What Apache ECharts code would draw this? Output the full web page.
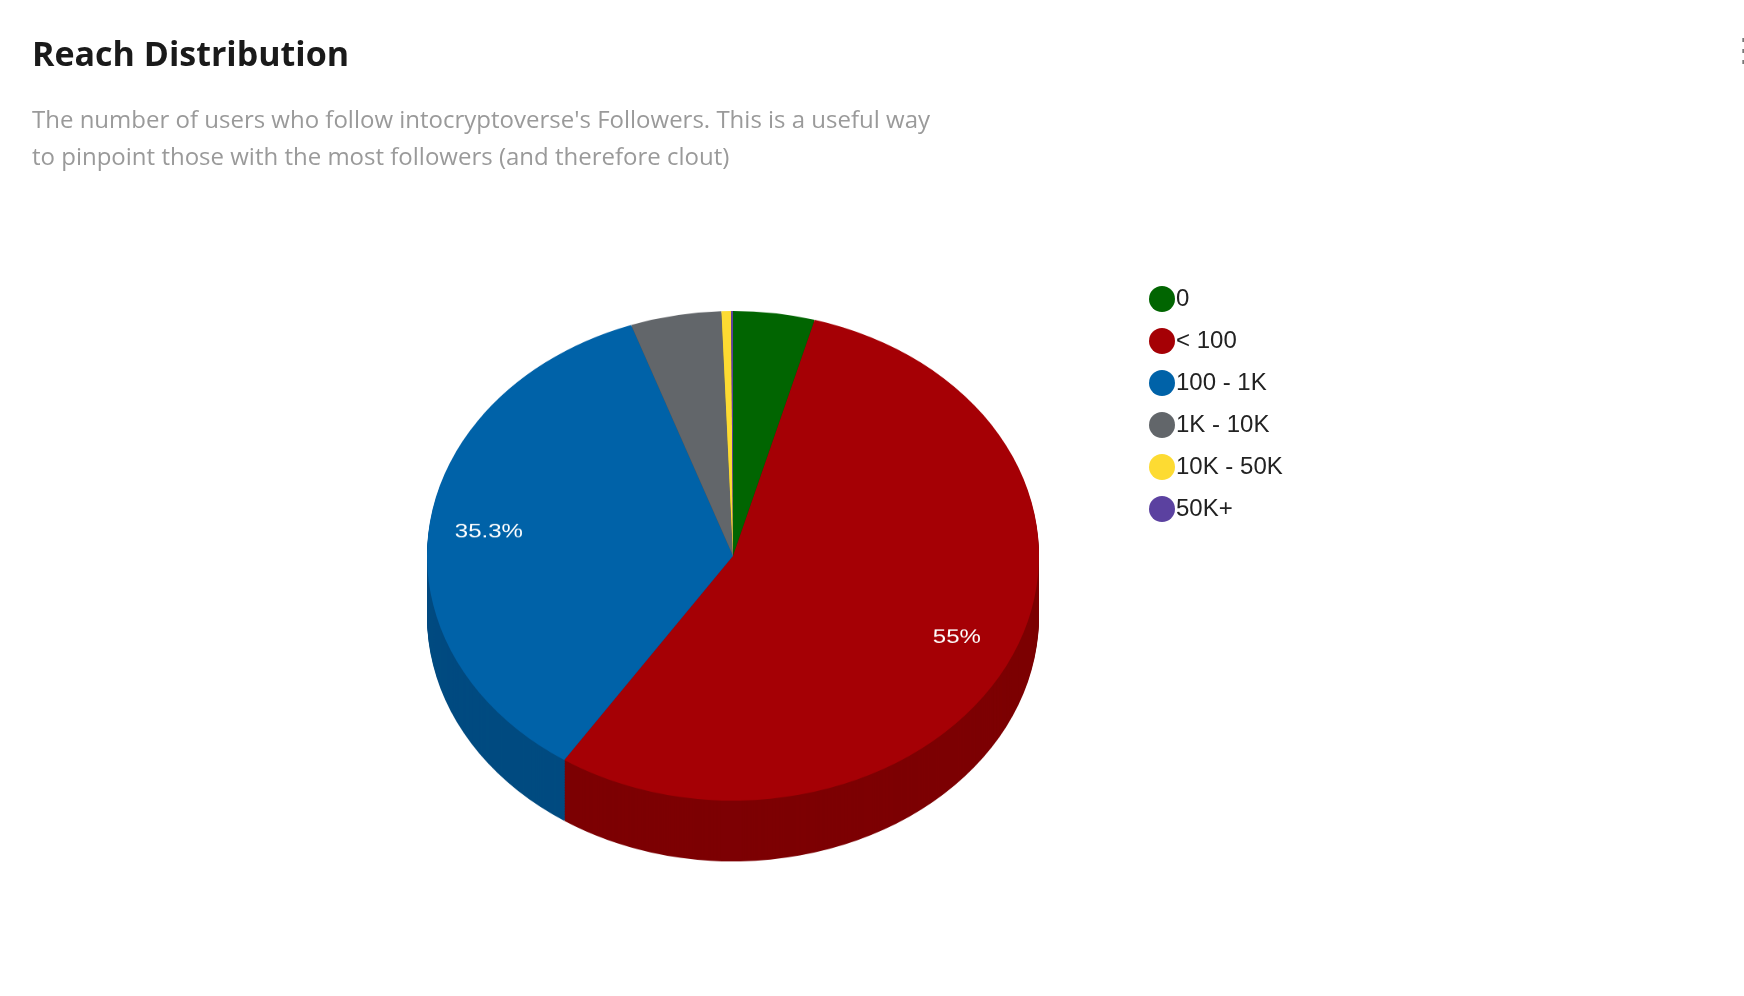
<!DOCTYPE html>
<html><head><meta charset="utf-8">
<script src="https://cdn.jsdelivr.net/npm/echarts@6/dist/echarts.min.js"></script>
<style>html,body{margin:0;padding:0;background:#fff;}#main{position:absolute;left:0;top:0;width:1744px;height:996px;}#pie{position:absolute;left:427px;top:311px;width:612px;height:700px;transform:scaleY(0.8);transform-origin:0 0;}</style>
</head><body><div id="main"></div><div id="pie"></div>
<script>
const categories = ['0', '< 100', '100 - 1K', '1K - 10K', '10K - 50K', '50K+'];
const values = [4.3, 55, 35.3, 4.8, 0.5, 0.1];
const topColors = ['#016501', '#a50005', '#0062a8', '#62666a', '#fddb32', '#5b41a0'];
const sideColors = ['#014501', '#7d0003', '#004b80', '#45484b', '#c9ae22', '#402d72'];

const data = categories.map((n, i) => ({ name: n, value: values[i] }));

const main = echarts.init(document.getElementById('main'));
main.setOption({
  animation: false,
  title: {
    text: 'Reach Distribution', left: 27, top: 34,
    textStyle: { fontFamily: 'Open Sans', fontWeight: 'bold', fontSize: 34, color: '#1a1a1a' },
    subtext: "The number of users who follow intocryptoverse's Followers. This is a useful way\nto pinpoint those with the most followers (and therefore clout)",
    itemGap: 30,
    subtextStyle: { fontFamily: 'Open Sans', fontSize: 24, color: '#9a9a9a', lineHeight: 37 }
  },
  graphic: [{ type: 'text', left: 1728, top: 36, style: { text: '⋮', fontSize: 32, fill: '#777' } }],
  legend: {
    orient: 'vertical', left: 1144, top: 281, icon: 'circle', itemWidth: 26, itemHeight: 26, itemGap: 16,
    textStyle: { fontFamily: 'Liberation Sans', fontSize: 24, color: '#222', padding: [0, 0, 0, -4] },
    data: categories
  },
  color: topColors,
  series: [{ type: 'pie', radius: [0, 0], center: [-100, -100], data: data, label: { show: false }, silent: true }]
});

const pie = echarts.init(document.getElementById('pie'));
const series = [];
for (let k = 76; k >= 2; k -= 2) {
  series.push({
    type: 'pie', radius: 306, center: [306, 306 + k], startAngle: 90, clockwise: true, silent: true,
    data: data.map((d, i) => ({ name: d.name, value: d.value, itemStyle: { color: sideColors[i] } })),
    label: { show: false }, labelLine: { show: false }
  });
}
series.push({
  type: 'pie', radius: 306, center: [306, 306], startAngle: 90, clockwise: true,
  data: data.map((d, i) => ({ name: d.name, value: d.value, itemStyle: { color: topColors[i] } })),
  label: { show: false }, labelLine: { show: false }
});
series.push({
  type: 'pie', radius: [180, 306], center: [306, 306], startAngle: 90, clockwise: true, silent: true,
  data: data.map((d) => ({ name: d.name, value: d.value, itemStyle: { color: 'rgba(0,0,0,0)' } })),
  label: {
    position: 'inside', color: '#fff', fontFamily: 'Liberation Sans', fontSize: 24,
    formatter: (p) => p.value > 5 ? p.value + '%' : ''
  },
  labelLine: { show: false }
});
pie.setOption({ animation: false, series: series });
</script></body></html>
